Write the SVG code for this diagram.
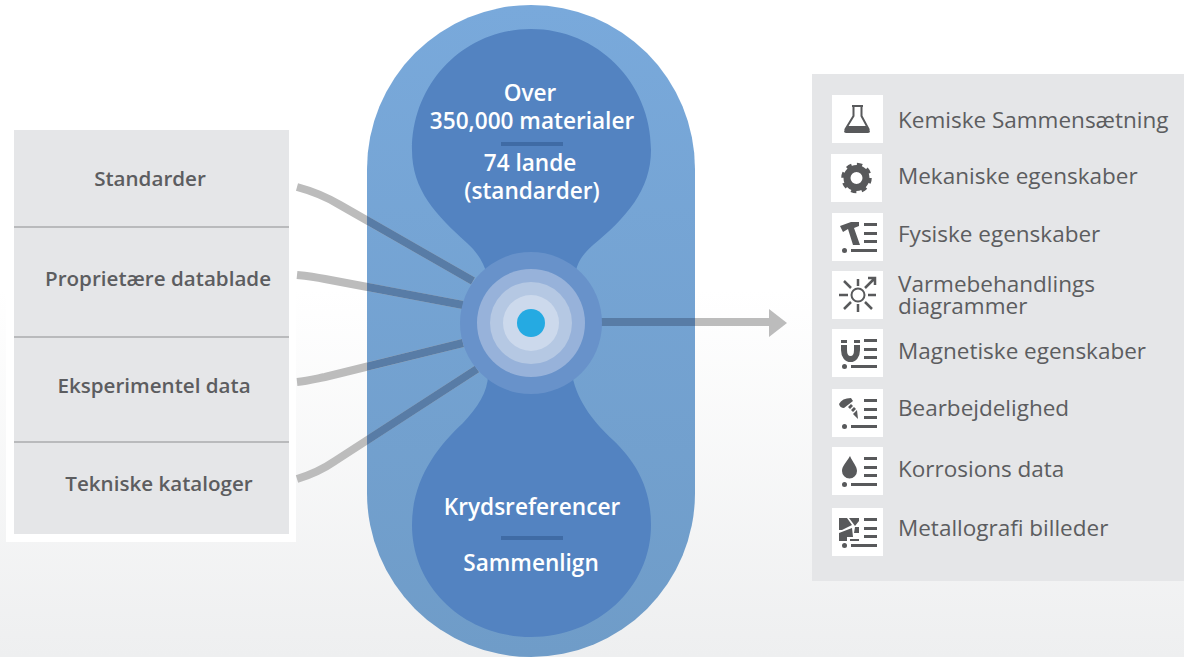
<svg xmlns="http://www.w3.org/2000/svg" width="1184" height="657" viewBox="0 0 1184 657">
<style>
text{font-family:"Open Sans","Noto Sans",sans-serif}
.l{font-size:20.600px;font-weight:600;fill:#5c5d60;text-anchor:middle;transform:translateY(-.7px)}
.r{font-size:22.500px;fill:#5c5d60;transform:translateY(-.7px)}
.w{font-size:22.600px;font-weight:600;fill:#fff;text-anchor:middle}
.sq{fill:#fff}
.i{fill:#58595b}
.g{fill:none;stroke:#bcbcbc;stroke-width:8}
.d{fill:none;stroke:#587ca6;stroke-width:8}
.sep{stroke:#b9babc;stroke-width:2}
.bar{fill:#3f6ba5}
</style>
<defs>
<linearGradient id="bg" x1="0" y1="0" x2="0" y2="1"><stop offset="0" stop-color="#fff"/><stop offset="1" stop-color="#eeeff0"/></linearGradient>
<linearGradient id="cap" x1="0" y1="0" x2="0" y2="1"><stop offset="0" stop-color="#79a9db"/><stop offset="1" stop-color="#6f9cc8"/></linearGradient>
<clipPath id="cc"><rect x="367" y="5" width="328" height="652" rx="164"/></clipPath>
<g id="ls">
<rect class="i" x="32" y="10" width="13" height="3"/><rect class="i" x="32" y="19" width="13" height="3"/><rect class="i" x="32" y="27" width="13" height="3"/><rect class="i" x="19" y="36" width="26" height="3"/><circle class="i" cx="12.500" cy="37.500" r="2.500"/>
</g>
</defs>
<rect x="0" y="290" width="1184" height="367" fill="url(#bg)"/>
<g id="source-panel">
<rect x="6" y="123" width="290" height="419" fill="#fff"/>
<rect x="14" y="130" width="275" height="404" fill="#e5e6e8"/>
<line class="sep" x1="14" y1="227" x2="289" y2="227"/>
<line class="sep" x1="14" y1="337" x2="289" y2="337"/>
<line class="sep" x1="14" y1="442" x2="289" y2="442"/>
</g>
<g id="source-standarder"><text class="l" x="150" y="187">Standarder</text></g>
<g id="source-proprietaere"><text class="l" x="158" y="287">Proprietære datablade</text></g>
<g id="source-eksperimentel"><text class="l" x="154" y="394">Eksperimentel data</text></g>
<g id="source-tekniske"><text class="l" x="159" y="492">Tekniske kataloger</text></g>
<g id="capsule">
<rect x="367" y="5" width="328" height="652" rx="164" fill="url(#cap)"/>
<path fill="#5383c1" d="M531 29C597 29 651 82 651 150C651 190 626 218 593 245C583 254 577 262 575 275L487 275C484 262 476 251 467 243C436 215 412 190 412 150C412 82 465 29 531 29Z"/>
<path fill="#5383c1" d="M488 375C488 392 477 408 463 423C437 447 412 480 412 525C412 588 465 637 531 637C597 637 651 588 651 525C651 488 636 462 613 440C596 424 578 404 572 375Z"/>
</g>
<g id="connectors">
<g>
<path class="g" d="M297 187C312 191 325 196 340 205L473 281"/>
<path class="g" d="M297 275C307 276 315 277 325 279L463 305"/>
<path class="g" d="M297 382C307 381 315 379 325 377L463 343"/>
<path class="g" d="M297 479C310 475 322 470 335 461L477 369"/>
<path class="g" d="M600 322H771"/>
<polygon fill="#bcbcbc" points="769,309 787,323 769,337"/>
</g>
<g clip-path="url(#cc)">
<path class="d" d="M297 187C312 191 325 196 340 205L473 281"/>
<path class="d" d="M297 275C307 276 315 277 325 279L463 305"/>
<path class="d" d="M297 382C307 381 315 379 325 377L463 343"/>
<path class="d" d="M297 479C310 475 322 470 335 461L477 369"/>
<path class="d" d="M600 322H771"/>
</g>
</g>
<g id="hub">
<circle cx="531" cy="323" r="71" fill="#6892ca"/>
<circle cx="531" cy="323" r="54" fill="#97b2da"/>
<circle cx="531" cy="323" r="41" fill="#b5c8e3"/>
<circle cx="531" cy="323" r="28" fill="#ccd9ec"/>
<circle cx="531" cy="323" r="14" fill="#25aae2"/>
</g>
<g id="top-text">
<text class="w" x="530" y="101">Over</text>
<text class="w" x="532" y="129">350,000 materialer</text>
<rect class="bar" x="501" y="142" width="62" height="4"/>
<text class="w" x="530" y="171">74 lande</text>
<text class="w" x="532" y="199">(standarder)</text>
</g>
<g id="bottom-text">
<text class="w" x="532" y="515">Krydsreferencer</text>
<rect class="bar" x="501" y="536" width="62" height="4"/>
<text class="w" x="531" y="571">Sammenlign</text>
</g>
<rect id="property-panel" x="812" y="74" width="372" height="507" fill="#e5e6e8"/>
<g id="p1"><rect class="sq" x="832" y="95" width="51" height="48"/>
<path fill="none" stroke="#58595b" stroke-width="2" d="M852 106H863M853.500 106V116L845 130M861.500 106V116L869 130"/>
<path class="i" d="M848 126H866L870 131Q870 133 868 133H846Q844 133 844 131Z"/>
<text class="r" x="898" y="129">Kemiske Sammensætning</text></g>
<g id="p2"><rect class="sq" x="831" y="154" width="51" height="48"/>
<circle cx="856.500" cy="178" r="9.500" fill="none" stroke="#58595b" stroke-width="7"/>
<circle cx="856.500" cy="178" r="13.500" fill="none" stroke="#58595b" stroke-width="3.500" stroke-dasharray="5.300 5.300"/>
<text class="r" x="898" y="185">Mekaniske egenskaber</text></g>
<g id="p3"><rect class="sq" x="832" y="213" width="51" height="48"/><use href="#ls" x="832" y="213"/>
<path class="i" d="M840 226L851 222H859V226L854 228L860 245L853 245L848 229L843 232Z"/>
<text class="r" x="898" y="243">Fysiske egenskaber</text></g>
<g id="p4"><rect class="sq" x="832" y="271" width="51" height="48"/>
<circle cx="858" cy="295" r="6.500" fill="none" stroke="#58595b" stroke-width="2"/>
<path fill="none" stroke="#58595b" stroke-width="2.500" d="M858 279V286M858 304V312M839 295H848M868 295H876M844 281L851 288M851 302L844 309M865 302L872 309M865 288L874 279M868 278H875V285"/>
<text class="r" x="898" y="293">Varmebehandlings</text>
<text class="r" x="898" y="315">diagrammer</text></g>
<g id="p5"><rect class="sq" x="832" y="329" width="51" height="48"/><use href="#ls" x="832" y="329"/>
<path fill="none" stroke="#58595b" stroke-width="6" d="M844 345V350C844 362 857 362 857 350V345"/>
<rect class="i" x="841" y="340" width="6" height="3"/><rect class="i" x="854" y="340" width="6" height="3"/>
<text class="r" x="898" y="360">Magnetiske egenskaber</text></g>
<g id="p6"><rect class="sq" x="832" y="389" width="51" height="48"/><use href="#ls" x="832" y="389"/>
<path class="i" d="M839 404Q842 398 851 398L853 401L844 408Q840 408 839 404ZM848 407L851 404L853 406L850 409ZM851 410L854 407L856 409L853 412ZM853 414L857 410L858 419Z"/>
<text class="r" x="898" y="417">Bearbejdelighed</text></g>
<g id="p7"><rect class="sq" x="832" y="447" width="51" height="48"/><use href="#ls" x="832" y="447"/>
<path class="i" d="M850 456C846 463 842 466 842 471A7.500 7.500 0 0 0 857 471C857 466 853 463 850 456Z"/>
<text class="r" x="898" y="478">Korrosions data</text></g>
<g id="p8"><rect class="sq" x="832" y="508" width="51" height="48"/><use href="#ls" x="832" y="508"/>
<path class="i" d="M839 518H847L852 525L842 530H839ZM849 518H859V521L855 526ZM855 527H859V533H854ZM839 533L852 528L853 537H847V541H839ZM850 539H859V541H850Z"/>
<text class="r" x="898" y="537">Metallografi billeder</text></g>
</svg>
